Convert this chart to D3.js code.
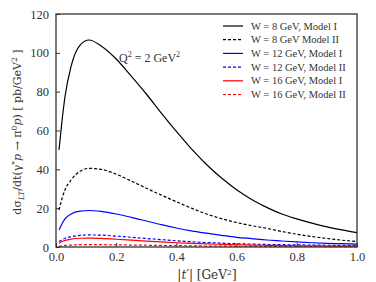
<!DOCTYPE html>
<html>
<head>
<meta charset="utf-8">
<script src="https://cdn.jsdelivr.net/npm/d3@7"></script>
<style>
  body { margin: 0; background: #fff; }
  svg text { font-family: "Liberation Serif", serif !important; fill: #333; }
  svg text.dv { font-family: "DejaVu Serif", serif !important; }
</style>
</head>
<body>
<svg id="chart" width="376" height="282"></svg>
<script>
// |t'| sample points (GeV^2)
var tVals = [0.01, 0.02, 0.03, 0.05, 0.08, 0.11, 0.15, 0.2, 0.25, 0.3, 0.35, 0.4,
             0.45, 0.5, 0.55, 0.6, 0.65, 0.7, 0.75, 0.8, 0.85, 0.9, 0.95, 1.0];

// cross sections, pb/GeV^2
var w8m1  = [50, 65, 77.5, 93, 104, 106.6, 103.5, 96.8, 88, 78.8, 69, 59.5,
             50.5, 42.5, 35.5, 29.5, 24.5, 20.4, 17, 14.5, 12.3, 10.4, 8.8, 7.4];
var w8m2  = [19, 25, 29.5, 34.5, 39, 40.5, 40, 37.5, 34, 30.3, 26.7, 23.3,
             20, 17, 14.6, 12.6, 11, 9.6, 8, 6.6, 5.4, 4.4, 3.5, 2.8];
var w12m1 = [8.8, 12, 14.5, 17, 18.5, 18.8, 18.3, 17, 15.3, 13.4, 11.5, 9.8,
             8.3, 7.1, 6.0, 5.0, 4.3, 3.6, 3.1, 2.6, 2.2, 1.9, 1.7, 1.5];
var w12m2 = [2.8, 3.8, 4.5, 5.3, 6.0, 6.2, 6.1, 5.6, 5.0, 4.4, 3.8, 3.2,
             2.7, 2.3, 2.0, 1.7, 1.5, 1.3, 1.2, 1.1, 1.0, 0.9, 0.85, 0.8];
var w16m1 = [1.9, 2.8, 3.4, 4.1, 4.5, 4.6, 4.4, 4.0, 3.5, 3.0, 2.6, 2.2,
             1.9, 1.6, 1.35, 1.15, 1.0, 0.85, 0.75, 0.65, 0.58, 0.5, 0.45, 0.4];
var w16m2 = [0.3, 0.6, 0.8, 1.0, 1.2, 1.25, 1.2, 1.1, 1.0, 0.9, 0.8, 0.7,
             0.6, 0.5, 0.45, 0.4, 0.36, 0.33, 0.3, 0.28, 0.26, 0.24, 0.22, 0.2];

var legendLabels = ['W = 8 GeV, Model I', 'W = 8 GeV Model II',
                    'W = 12 GeV, Model I', 'W = 12 GeV, Model II',
                    'W = 16 GeV, Model I', 'W = 16 GeV, Model II'];
var xTicks = [0.0, 0.2, 0.4, 0.6, 0.8, 1.0];
var yTicks = [0, 20, 40, 60, 80, 100, 120];

var series = [
    {vals: w8m1,  color: '#000', dash: null},
    {vals: w8m2,  color: '#000', dash: '3,2'},
    {vals: w12m1, color: '#0000ff', dash: null},
    {vals: w12m2, color: '#0000ff', dash: '3,2'},
    {vals: w16m1, color: '#ff0000', dash: null},
    {vals: w16m2, color: '#ff0000', dash: '3,2'}
];

var svg = d3.select('#chart');
var margin = {left: 56, top: 14, right: 19, bottom: 35};
var width = 376 - margin.left - margin.right;
var height = 282 - margin.top - margin.bottom;

var g = svg.append('g').attr('transform', 'translate(' + margin.left + ',' + margin.top + ')');

var xScale = d3.scaleLinear().domain([0, 1]).range([0, width]);
var yScale = d3.scaleLinear().domain([0, 120]).range([height, 0]);

// axes, ticks pointing inward
var xAxis = g.append('g')
    .attr('transform', 'translate(0,' + height + ')')
    .call(d3.axisBottom(xScale).tickValues(xTicks).tickFormat(d3.format('.1f'))
        .tickSizeInner(-4).tickSizeOuter(0).tickPadding(5));
var yAxis = g.append('g')
    .call(d3.axisLeft(yScale).tickValues(yTicks)
        .tickSizeInner(-4).tickSizeOuter(0).tickPadding(7));
[xAxis, yAxis].forEach(function (a) {
    a.attr('font-family', null);
    a.select('.domain').remove();
    a.selectAll('line').attr('stroke', '#333').attr('stroke-width', 1);
    a.selectAll('text').style('font-size', '12.5px');
});

var line = d3.line()
    .x(function (d) { return xScale(d[0]); })
    .y(function (d) { return yScale(d[1]); })
    .curve(d3.curveMonotoneX);

series.forEach(function (s) {
    g.append('path')
        .datum(tVals.map(function (t, i) { return [t, s.vals[i]]; }))
        .attr('d', line)
        .attr('fill', 'none')
        .attr('stroke', s.color)
        .attr('stroke-width', 1.2)
        .attr('stroke-dasharray', s.dash);
});

// frame
g.append('rect')
    .attr('width', width).attr('height', height)
    .attr('fill', 'none').attr('stroke', '#333').attr('stroke-width', 1.3);

// legend
var leg = g.append('g').attr('transform', 'translate(' + (223 - margin.left) + ',' + (26 - margin.top) + ')');
series.forEach(function (s, i) {
    var row = leg.append('g').attr('transform', 'translate(0,' + (i * 13.7) + ')');
    row.append('line').attr('x1', 0).attr('x2', 20)
        .attr('stroke', s.color).attr('stroke-width', 1.2).attr('stroke-dasharray', s.dash);
    row.append('text').attr('x', 28).attr('y', 3.5)
        .style('font-size', '10.5px').text(legendLabels[i]);
});

// annotation
var q = g.append('text').attr('x', 119 - margin.left).attr('y', 62 - margin.top).style('font-size', '12px');
q.append('tspan').text('Q');
q.append('tspan').attr('dy', -5).style('font-size', '8px').text('2');
q.append('tspan').attr('dy', 5).text(' = 2 GeV');
q.append('tspan').attr('dy', -5).style('font-size', '8px').text('2');

// x label
var xl = svg.append('text').attr('class', 'dv').attr('x', 207).attr('y', 279).attr('text-anchor', 'middle').style('font-size', '12px');
xl.append('tspan').text('|');
xl.append('tspan').style('font-style', 'italic').text('t′');
xl.append('tspan').text('|  [GeV');
xl.append('tspan').attr('dy', -4).style('font-size', '8px').text('2');
xl.append('tspan').attr('dy', 4).text(']');

// y label
var yl = svg.append('text').attr('class', 'dv')
    .attr('transform', 'translate(21,' + (margin.top + 118) + ') rotate(-90)')
    .attr('text-anchor', 'middle').style('font-size', '11px');
yl.append('tspan').text('dσ');
yl.append('tspan').attr('dy', 3).style('font-size', '7.5px').style('font-style', 'italic').text('LT');
yl.append('tspan').attr('dy', -3).text('/dt(γ');
yl.append('tspan').attr('dy', -4).style('font-size', '7.5px').text('*');
yl.append('tspan').attr('dy', 4).style('font-style', 'italic').text('p');
yl.append('tspan').text(' → π');
yl.append('tspan').attr('dy', -4).style('font-size', '7.5px').text('0');
yl.append('tspan').attr('dy', 4).style('font-style', 'italic').text('p');
yl.append('tspan').text(')  [ pb/GeV');
yl.append('tspan').attr('dy', -4).style('font-size', '7.5px').text('2');
yl.append('tspan').attr('dy', 4).text(' ]');
</script>
</body>
</html>
